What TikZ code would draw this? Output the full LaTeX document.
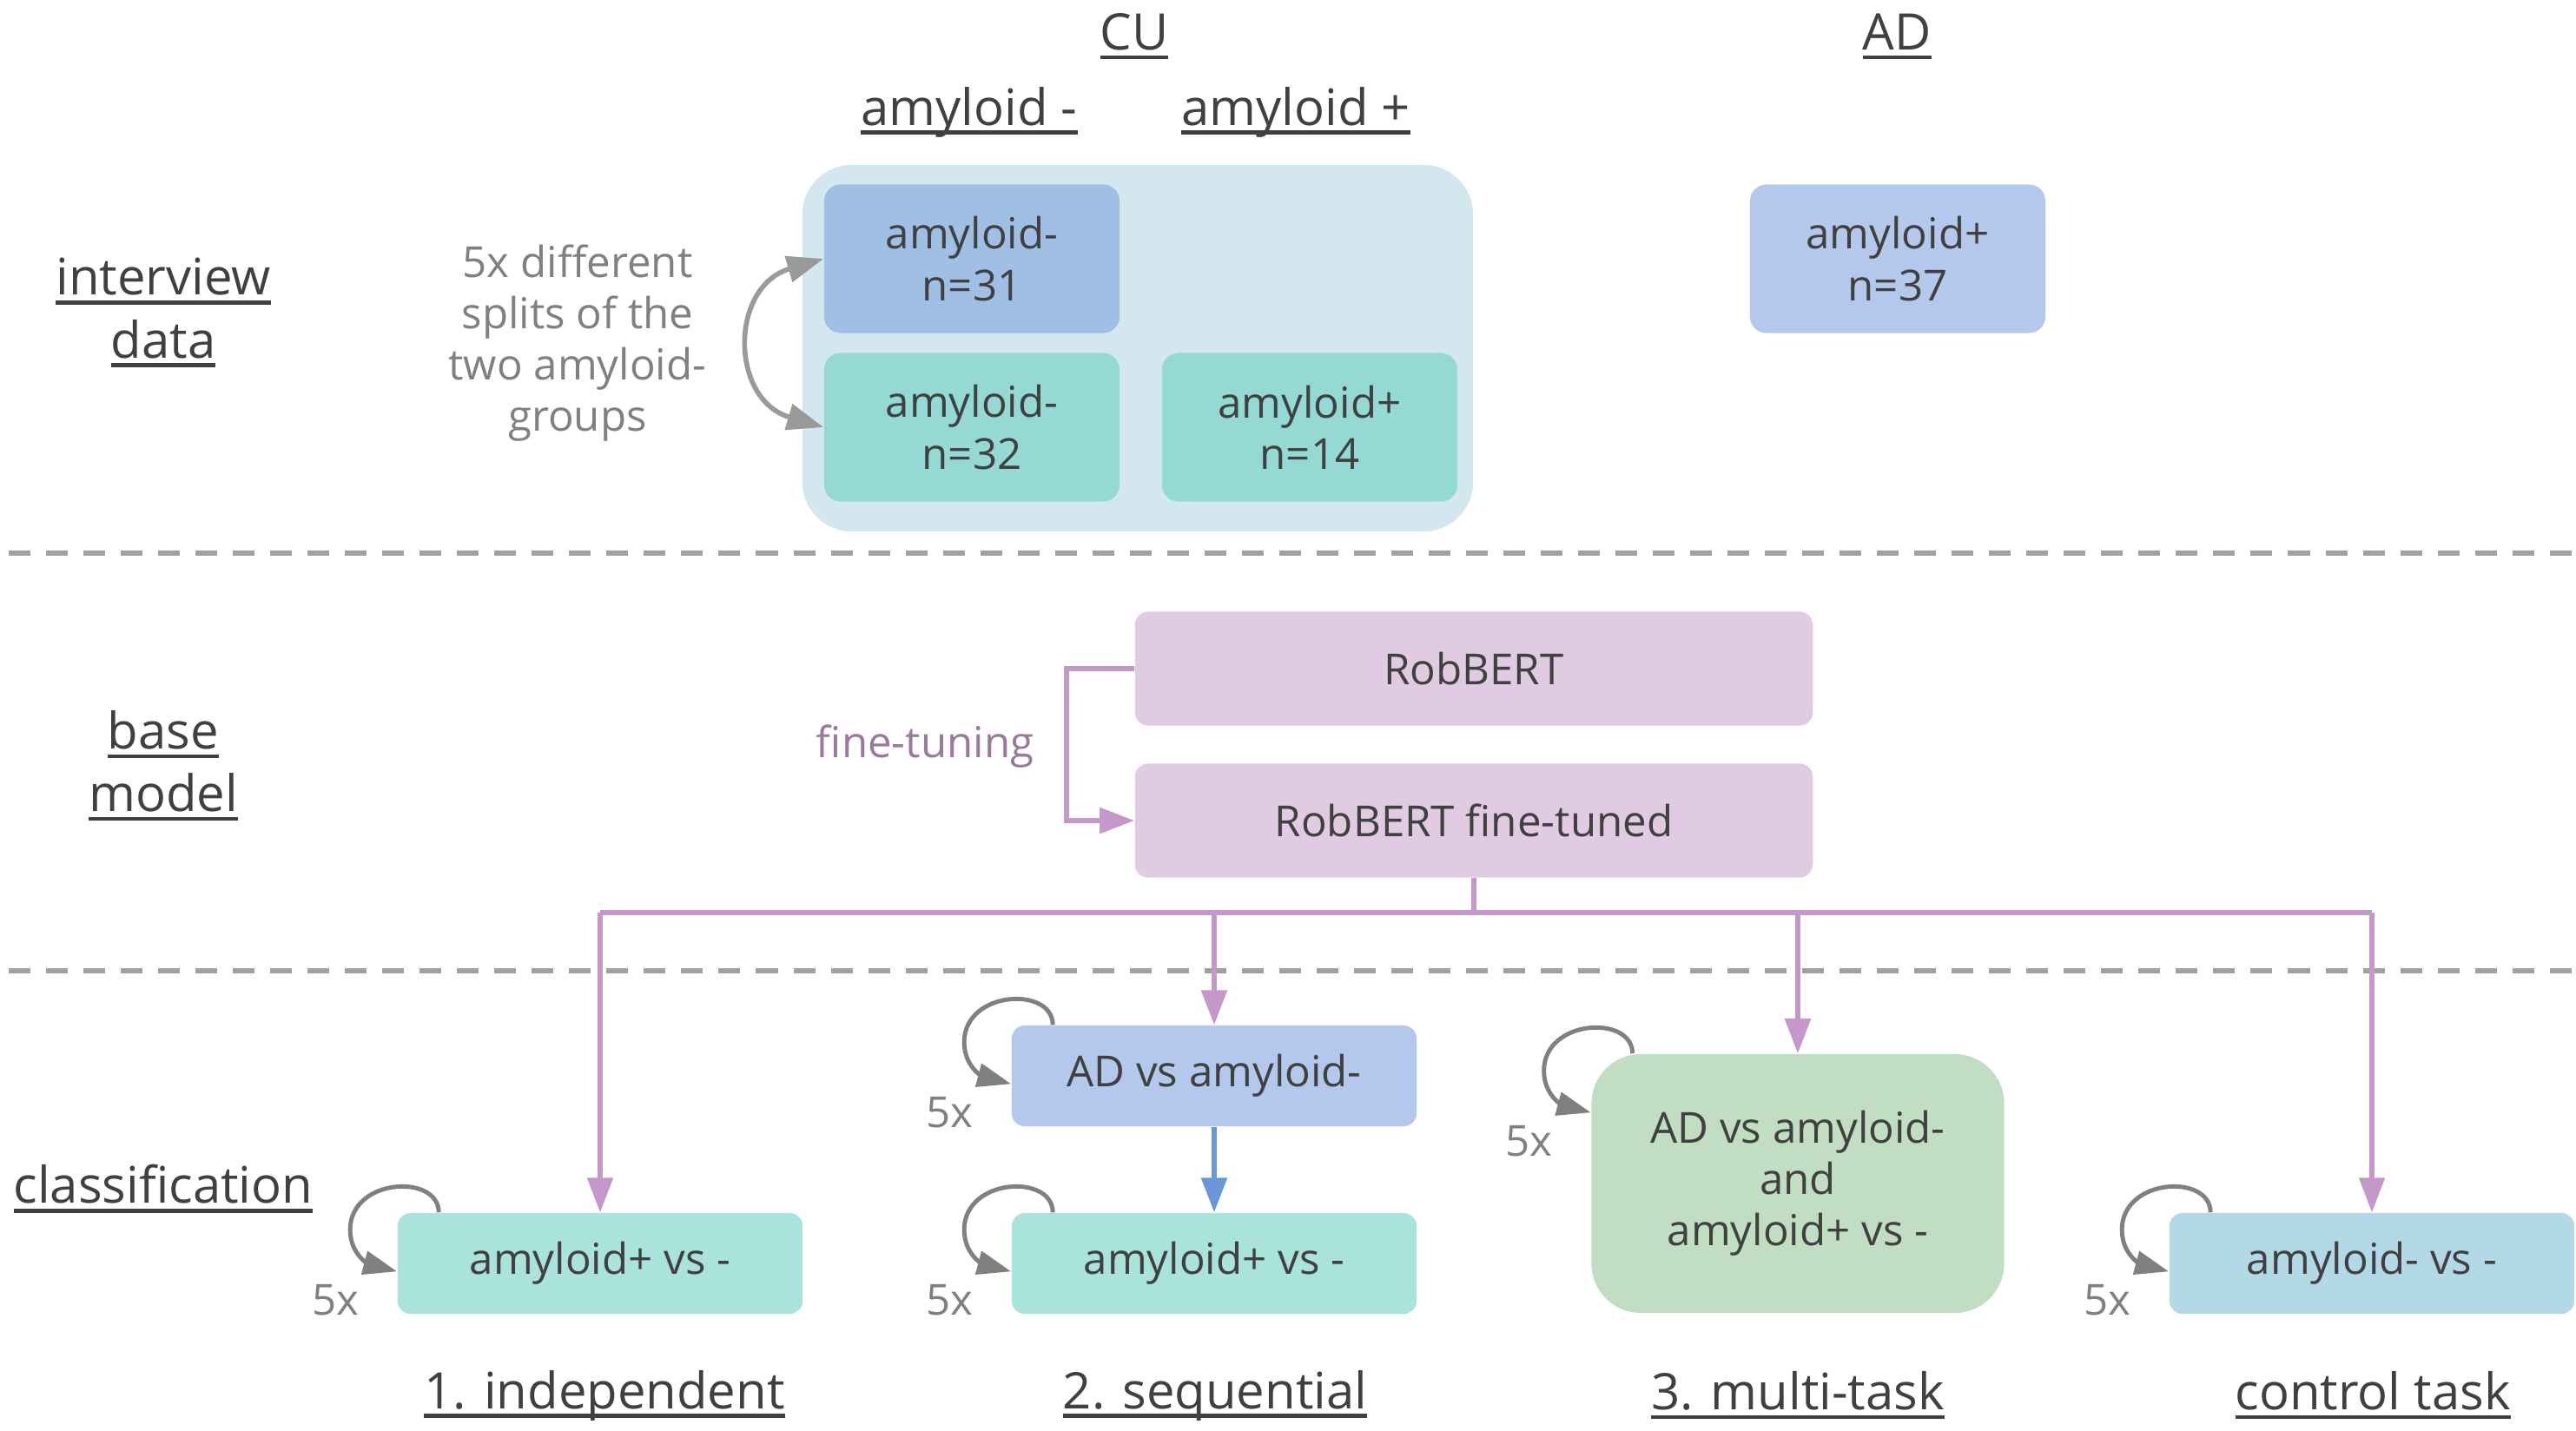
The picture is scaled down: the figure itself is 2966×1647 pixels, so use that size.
\documentclass[tikz,border=0pt]{standalone}
\usepackage{fontspec}
\setmainfont{Open Sans}
\usetikzlibrary{positioning}
\usetikzlibrary{arrows.meta}

\definecolor{txtdark}{HTML}{404040}
\definecolor{txtgray}{HTML}{808080}
\definecolor{cubg}{HTML}{D3E8EE}
\definecolor{negblue}{HTML}{A0BFE4}
\definecolor{negteal}{HTML}{94D9D4}
\definecolor{adblue}{HTML}{B4C8EB}
\definecolor{robpink}{HTML}{E1CBE3}
\definecolor{tunepurple}{HTML}{C598CA}
\definecolor{tunetext}{HTML}{9A7A9C}
\definecolor{clsteal}{HTML}{A9E3DB}
\definecolor{clsgreen}{HTML}{C1DEC3}
\definecolor{clscyan}{HTML}{B3D9E6}
\definecolor{seqblue}{HTML}{6A96DA}
\definecolor{loopgray}{HTML}{808080}
\definecolor{splitgray}{HTML}{9A9A9A}
\definecolor{dashgray}{HTML}{A0A0A0}

\newcommand{\headul}[1]{\setbox0=\hbox{#1}\rlap{\rule[-3pt]{\wd0}{1.3pt}}\box0}

\tikzset{
  boxtext/.style={font=\fontsize{14}{16.8}\selectfont, text=txtdark, align=center, inner sep=0pt},
  group/.style={boxtext, rounded corners=1.9mm, minimum width=3.4cm, minimum height=1.71cm},
  model/.style={boxtext, fill=robpink, rounded corners=1.5mm, minimum width=7.8cm, minimum height=1.31cm},
  task/.style={boxtext, rounded corners=1.5mm, minimum width=4.66cm, minimum height=1.16cm},
  heading/.style={font=\fontsize{16.5}{20.5}\selectfont, text=txtdark, align=center, inner sep=0pt},
  fivex/.style={font=\fontsize{14}{16.8}\selectfont, text=txtgray, inner sep=0pt},
  sep/.style={draw=dashgray, line width=1.7pt, dash pattern=on 0.25cm off 0.18cm},
  tune/.style={draw=tunepurple, line width=1.6pt},
  drop/.style={draw=tunepurple, line width=1.6pt, -{Triangle[length=4mm,width=2.9mm]}},
  selfloop/.style={draw=loopgray, line width=1.4pt, -{Triangle[length=3.9mm,width=2.7mm]}},
}

\begin{document}
\begin{tikzpicture}[x=0.01cm,y=-0.01cm]
  \useasboundingbox (0,0) rectangle (2966,1647);

  % section separators
  \draw[sep] (10,637) -- (2966,637);
  \draw[sep] (10,1118) -- (2966,1118);

  % row headings
  \node[heading] (hdata) at (188,360) {\headul{interview}\\\headul{data}};
  \node[heading] (hbase) at (188,882) {\headul{base}\\\headul{model}};
  \node[heading] (hclass) at (188,1369) {\headul{classification}};

  % interview data
  \node[heading] (hcu) at (1306,42) {\headul{CU}};
  \node[heading] (had) at (2184,42) {\headul{AD}};
  \node[heading] (hneg) at (1116,129) {\headul{amyloid -}};
  \node[heading] (hpos) at (1492,129) {\headul{amyloid +}};

  \node[fill=cubg, rounded corners=5.7mm, minimum width=7.72cm, minimum height=4.22cm] (cu) at (1310,401) {};
  \node[group, fill=negblue] (negA) at (1119,298) {amyloid-\\n=31};
  \node[group, fill=negteal] (negB) at (1119,492) {amyloid-\\n=32};
  \node[group, fill=negteal] (posB) at (1508,492) {amyloid+\\n=14};
  \node[group, fill=adblue] (adpos) at (2185,298) {amyloid+\\n=37};

  \node[boxtext, text=txtgray] (splits) at (665,395) {5x different\\splits of the\\two amyloid-\\groups};
  \draw[draw=splitgray, line width=1.6pt, {Triangle[length=4.2mm,width=3mm]}-{Triangle[length=4.2mm,width=3mm]}]
    (negA.west) .. controls (840,330) and (840,460) .. (negB.west);

  % base model
  \node[model] (robbert) at (1697,770) {RobBERT};
  \node[model] (tuned) at (1697,945) {RobBERT fine-tuned};
  \draw[tune, -{Triangle[length=4mm,width=2.9mm]}] (robbert.west) -- ++(-78,0) |- (tuned.west);
  \node[boxtext, text=tunetext] (ftlabel) at (1065,860) {fine-tuning};

  % classification
  \node[task, fill=clsteal] (indep) at (691,1455) {amyloid+ vs -};
  \node[task, fill=adblue] (seqad) at (1398,1239) {AD vs amyloid-};
  \node[task, fill=clsteal] (seqpos) at (1398,1455) {amyloid+ vs -};
  \node[task, fill=clsgreen, rounded corners=5.7mm, minimum width=4.75cm, minimum height=2.98cm] (multi) at (2070,1363) {AD vs amyloid-\\and\\amyloid+ vs -};
  \node[task, fill=clscyan] (control) at (2731,1455) {amyloid- vs -};

  \draw[draw=seqblue, line width=1.6pt, -{Triangle[length=4mm,width=2.9mm]}] (seqad) -- (seqpos);

  \coordinate (bus) at (1697,1051);
  \draw[tune] (tuned.south) -- (bus);
  \draw[tune] (indep.north |- bus) -- (control.north |- bus);
  \foreach \n in {indep,seqad,multi,control}
    \draw[drop] (\n.north |- bus) -- (\n.north);

  \foreach \n in {indep,seqad,seqpos,multi,control} {
    \draw[selfloop] ([shift={(48,0)}]\n.north west) .. controls +(0,-45) and +(0,-60) .. ([shift={(-54,20)}]\n.north west)
      .. controls +(0,30) and +(-30,-8) .. ([shift={(0,68)}]\n.north west);
    \node[fivex] (\n-5x) at ([shift={(-71,101)}]\n.north west) {5x};
  }

  \node[heading] (lindep) at (696,1607) {\headul{1. independent}};
  \node[heading] (lseq) at (1399,1607) {\headul{2. sequential}};
  \node[heading] (lmulti) at (2070,1607) {\headul{3. multi-task}};
  \node[heading] (lcontrol) at (2732,1607) {\headul{control task}};
\end{tikzpicture}
\end{document}
